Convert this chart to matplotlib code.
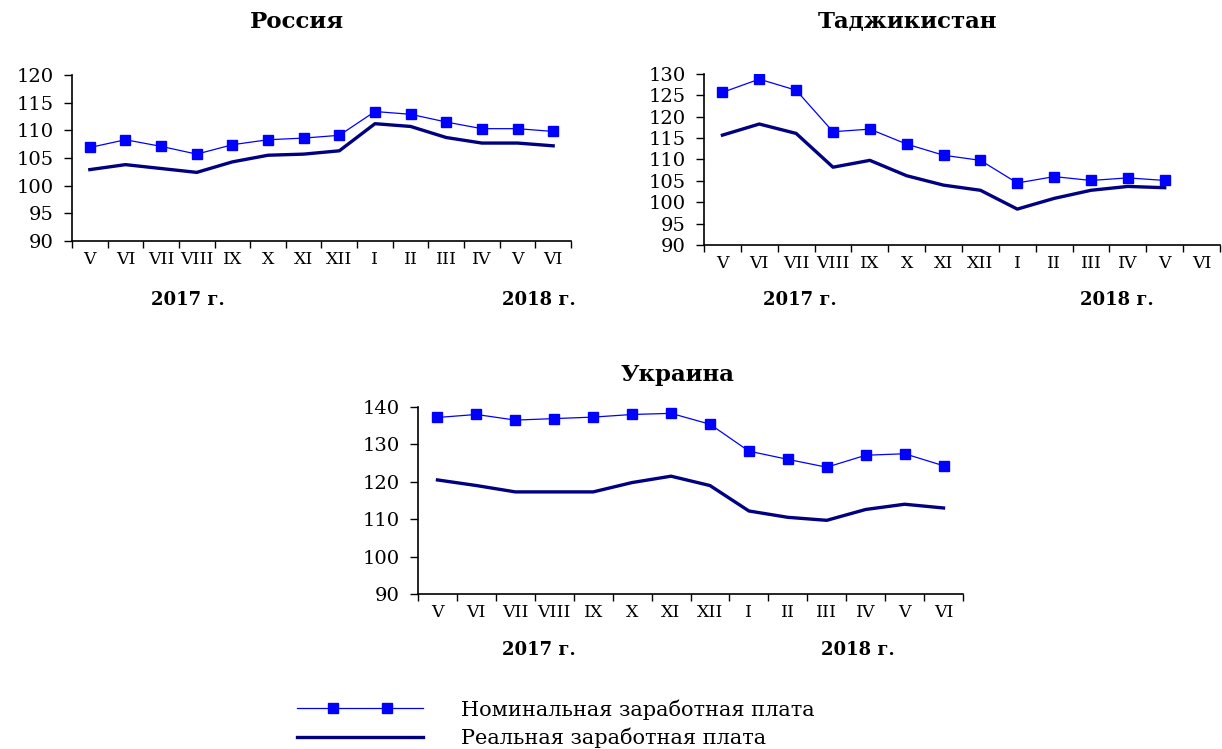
import numpy as np
import matplotlib
matplotlib.use('Agg')
import matplotlib.pyplot as plt
from matplotlib.transforms import blended_transform_factory
from matplotlib.legend_handler import HandlerLine2DCompound

plt.rcParams['font.family'] = ['DejaVu Serif']

# month labels: May 2017 .. June 2018
months = ['V', 'VI', 'VII', 'VIII', 'IX', 'X', 'XI', 'XII',
          'I', 'II', 'III', 'IV', 'V', 'VI']

russia_nominal = [106.9, 108.3, 107.1, 105.7, 107.4, 108.3, 108.6, 109.1,
                  113.4, 112.9, 111.5, 110.3, 110.3, 109.8]
russia_real = [102.9, 103.8, 103.1, 102.4, 104.3, 105.5, 105.7, 106.3,
               111.2, 110.7, 108.7, 107.7, 107.7, 107.2]

# Tajikistan has no June 2018 value
tajik_nominal = [125.7, 128.8, 126.2, 116.5, 117.1, 113.6, 111.0, 109.8,
                 104.5, 106.0, 105.1, 105.7, 105.1]
tajik_real = [115.7, 118.3, 116.1, 108.2, 109.8, 106.2, 104.0, 102.8,
              98.4, 100.9, 102.8, 103.7, 103.4]

ukraine_nominal = [137.2, 138.0, 136.5, 136.9, 137.3, 138.0, 138.3, 135.4,
                   128.2, 126.0, 123.9, 127.1, 127.5, 124.3]
ukraine_real = [120.5, 119.0, 117.3, 117.3, 117.3, 119.8, 121.5, 119.0,
                112.2, 110.5, 109.7, 112.6, 114.0, 113.0]

NOM_COLOR = '#0000ff'
REAL_COLOR = '#000080'

fig = plt.figure(figsize=(12.22, 7.49), dpi=100)


class FullLineHandler(HandlerLine2DCompound):
    # line over the whole handle, the two markers set in from the ends
    def get_xdata(self, legend, xdescent, ydescent, width, height, fontsize):
        pad = self._marker_pad * fontsize
        xm = np.linspace(-xdescent + pad, -xdescent + width - pad, 2)
        return np.array([-xdescent, -xdescent + width]), xm


def make_panel(rect, nominal, real, ymax, ystep, title, title_x, title_y,
               year_pos):
    ax = fig.add_axes(rect)
    x = np.arange(len(months))
    ax.plot(x[:len(real)], real, color=REAL_COLOR, lw=2.4, zorder=2,
            label='Реальная заработная плата')
    ax.plot(x[:len(nominal)], nominal, color=NOM_COLOR, lw=0.9, marker='s',
            markersize=6.5, zorder=3, label='Номинальная заработная плата')
    ax.set_xlim(-0.5, len(months) - 0.5)
    ax.set_ylim(90, ymax)
    ax.set_yticks(np.arange(90, ymax + 1, ystep))
    ax.tick_params(axis='y', labelsize=14, length=6, width=1, pad=7)
    # ticks between months, labels centered on months
    ax.set_xticks(np.arange(-0.5, len(months), 1.0))
    ax.set_xticklabels([])
    ax.set_xticks(x, minor=True)
    ax.set_xticklabels(months, minor=True, fontsize=12.5)
    ax.tick_params(axis='x', which='major', length=5, width=1)
    ax.tick_params(axis='x', which='minor', length=0, pad=7)
    for s in ['top', 'right']:
        ax.spines[s].set_visible(False)
    for s in ['left', 'bottom']:
        ax.spines[s].set_linewidth(1.2)
    fig.text(title_x, title_y, title, ha='center', va='center',
             fontsize=16.5, fontweight='bold')
    tr = blended_transform_factory(ax.transData, ax.transAxes)
    (x17, x18, yy) = year_pos
    ax.text(x17, yy, '2017 г.', transform=tr, ha='center', va='center',
            fontsize=13, fontweight='bold')
    ax.text(x18, yy, '2018 г.', transform=tr, ha='center', va='center',
            fontsize=13, fontweight='bold')
    return ax


ax1 = make_panel([72 / 1222, 1 - 241 / 749, 499 / 1222, 166 / 749],
                 russia_nominal, russia_real, 120, 5, 'Россия',
                 297 / 1222, 1 - 22 / 749, (2.75, 12.6, -0.355))
ax2 = make_panel([704 / 1222, 1 - 245 / 749, 516 / 1222, 171 / 749],
                 tajik_nominal, tajik_real, 130, 5, 'Таджикистан',
                 907 / 1222, 1 - 22 / 749, (2.1, 10.7, -0.32))
ax3 = make_panel([418 / 1222, 1 - 594 / 749, 545 / 1222, 187 / 749],
                 ukraine_nominal, ukraine_real, 140, 10, 'Украина',
                 677 / 1222, 1 - 375 / 749, (2.6, 10.8, -0.30))

handles, labels = ax1.get_legend_handles_labels()
leg = fig.legend(handles[::-1], labels[::-1], loc='upper left',
                 bbox_to_anchor=(297 / 1222, 1 - 699 / 749), frameon=False,
                 fontsize=15, handlelength=6.05, handletextpad=1.8,
                 labelspacing=0.4, borderpad=0, borderaxespad=0,
                 numpoints=2,
                 handler_map={handles[1]: FullLineHandler(marker_pad=1.73),
                              handles[0]: FullLineHandler(marker_pad=1.73)})

fig.savefig('out.png', dpi=100)
